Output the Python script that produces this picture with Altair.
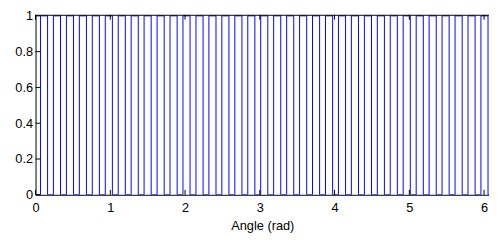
import altair as alt
import pandas as pd

# Rising and falling edge angles (rad) of the pulse train
rise = [0.066, 0.239, 0.413, 0.586, 0.759, 0.933, 1.106, 1.279, 1.452, 1.626,
        1.799, 1.972, 2.146, 2.319, 2.492, 2.666, 2.839, 3.012, 3.185, 3.359,
        3.532, 3.705, 3.879, 4.052, 4.225, 4.399, 4.572, 4.745, 4.918, 5.092,
        5.265, 5.438, 5.612, 5.785, 5.958, 6.132]
fall = [0.161, 0.334, 0.508, 0.681, 0.854, 1.028, 1.201, 1.374, 1.547, 1.721,
        1.894, 2.067, 2.241, 2.414, 2.587, 2.761, 2.934, 3.107, 3.280, 3.454,
        3.627, 3.800, 3.974, 4.147, 4.320, 4.494, 4.667, 4.840, 5.013, 5.187,
        5.360, 5.533, 5.707, 5.880, 6.053, 6.227]
x_start = 0.0
x_end = 6.2832
low_level = 0.0
high_level = 1.0

x_ticks = [0, 1, 2, 3, 4, 5, 6]
y_ticks = [0, 0.2, 0.4, 0.6, 0.8, 1.0]

# Ordered vertex table of the step line
rows = [(x_start, low_level)]
for r, f in zip(rise, fall):
    rows += [(r, low_level), (r, high_level), (f, high_level), (f, low_level)]
rows.append((x_end, low_level))
line_df = pd.DataFrame({"angle": [p[0] for p in rows],
                        "value": [p[1] for p in rows],
                        "i": list(range(len(rows)))})

W, H = 461, 183
FONT = "Liberation Sans"
xscale = alt.Scale(domain=[0, 6.066], nice=False, zero=False)
yscale = alt.Scale(domain=[0, 1.006], nice=False)

line = alt.Chart(line_df).mark_line(color="#0000ff", strokeWidth=1, clip=True).encode(
    x=alt.X("angle:Q", scale=xscale,
            axis=alt.Axis(orient="bottom", values=x_ticks, ticks=False, grid=False,
                          domainColor="#000000", zindex=1,
                          labelFont=FONT, labelFontSize=13, labelColor="#000000",
                          labelPadding=7, labelFlush=False, format="~g",
                          title="Angle (rad)", titleFont=FONT, titleFontSize=13,
                          titleFontWeight="normal", titleColor="#000000",
                          titlePadding=5)),
    y=alt.Y("value:Q", scale=yscale,
            axis=alt.Axis(orient="left", values=y_ticks, ticks=False, grid=False,
                          domainColor="#000000", zindex=1,
                          labelFont=FONT, labelFontSize=13, labelColor="#000000",
                          labelPadding=3, labelFlush=False, format="~g",
                          title=None)),
    order="i:Q",
)

xt_df = pd.DataFrame({"tick": x_ticks})
yt_df = pd.DataFrame({"ytick": y_ticks})

ticks_bottom = alt.Chart(xt_df).mark_rule(color="#000000", strokeWidth=1).encode(
    x=alt.X("tick:Q", scale=xscale, axis=None),
    y=alt.value(H), y2=alt.value(H - 5),
)
ticks_top = alt.Chart(xt_df).mark_rule(color="#000000", strokeWidth=1).encode(
    x=alt.X("tick:Q", scale=xscale,
            axis=alt.Axis(orient="top", labels=False, ticks=False, grid=False,
                          domainColor="#000000", zindex=1, title=None)),
    y=alt.value(0), y2=alt.value(5),
)
ticks_left = alt.Chart(yt_df).mark_rule(color="#000000", strokeWidth=1).encode(
    y=alt.Y("ytick:Q", scale=yscale, axis=None),
    x=alt.value(0), x2=alt.value(5),
)

chart = alt.layer(line, ticks_bottom, ticks_top, ticks_left).resolve_axis(
    x="independent", y="independent"
).properties(
    width=W, height=H,
    autosize=alt.AutoSizeParams(type="none"),
    padding={"left": 28, "top": 5, "right": 0, "bottom": 40},
    background="#ffffff",
).configure_view(stroke=None)

chart.save("out.html", embed_options={"renderer": "svg", "actions": False})
